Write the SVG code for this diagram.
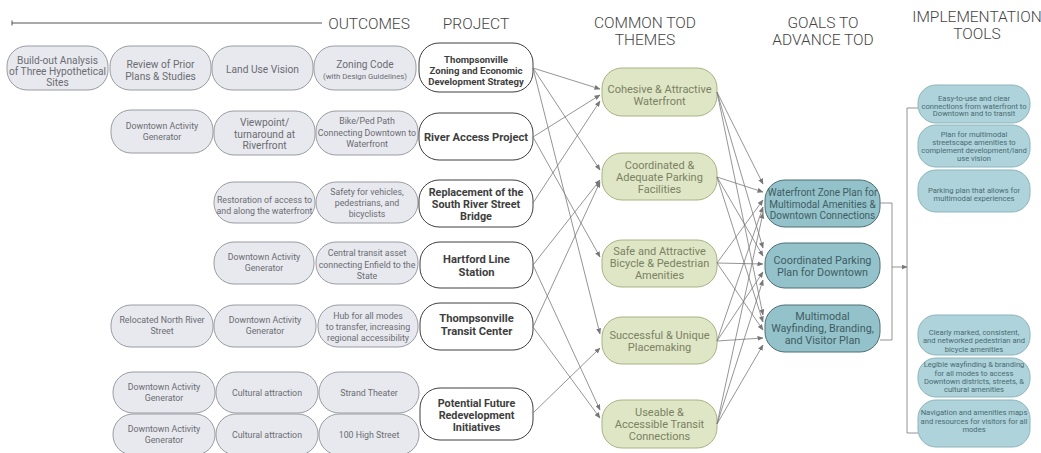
<svg xmlns="http://www.w3.org/2000/svg" width="1041" height="453" viewBox="0 0 1041 453">
<defs>
<marker id="ah" markerWidth="6" markerHeight="5" refX="5.5" refY="2.5" orient="auto" markerUnits="userSpaceOnUse"><path d="M0,0 L6,2.5 L0,5 Z" fill="#777"/></marker>
</defs>
<style>
text{font-family:Roboto,"Liberation Sans",sans-serif;text-anchor:middle}
.hd{font-size:15.5px;font-weight:300;fill:#444}
.oc rect{fill:#e8e9ee;stroke:#9a9ca3;stroke-width:1}
.oc text{fill:#6a6c72;font-size:8.8px}
.oc text.lg{font-size:10.2px}
.pr rect{fill:#fff;stroke:#3e3e3e;stroke-width:1}
.pr text{fill:#3e3e3e;font-weight:bold;font-size:10.8px}
.pr text.b{font-size:11.2px}
.pr text.s{font-size:9.6px}
.th rect{fill:#dfe6c5;stroke:#a9b284;stroke-width:1}
.th text{fill:#7a8164;font-size:11px}
.gl rect{fill:#94c2ca;stroke:#4d6e74;stroke-width:1}
.gl text{fill:#3f5d63;font-size:10px}
.gl text.b{font-size:10.8px}
.im rect{fill:#aed3da;stroke:#8db5bc;stroke-width:1}
.im text{fill:#4a6b72;font-size:7.6px}
.cn line,.cn path{stroke:#7a7a7a;stroke-width:0.8;fill:none}
.cn line{marker-end:url(#ah)}
</style>
<rect width="1041" height="453" fill="#fff"/>
<g id="header">
<line x1="12" y1="23" x2="322" y2="23" stroke="#555" stroke-width="1.2"/>
<line x1="12" y1="20.5" x2="12" y2="25.5" stroke="#555" stroke-width="1"/>
<text class="hd" x="369" y="29">OUTCOMES</text>
<text class="hd" x="476" y="29">PROJECT</text>
<text class="hd" x="645" y="28">COMMON TOD</text>
<text class="hd" x="645" y="45">THEMES</text>
<text class="hd" x="823" y="28">GOALS TO</text>
<text class="hd" x="823" y="45">ADVANCE TOD</text>
<text class="hd" x="977" y="22">IMPLEMENTATION</text>
<text class="hd" x="977" y="39">TOOLS</text>
</g>
<g id="outcomes" class="oc">
<g id="o1a"><rect x="7" y="46" width="101" height="44" rx="20"/><text class="lg" x="57.5" y="64">Build-out Analysis</text><text class="lg" x="57.5" y="75">of Three Hypothetical</text><text class="lg" x="57.5" y="86">Sites</text></g>
<g id="o1b"><rect x="110" y="46" width="101" height="44" rx="20"/><text class="lg" x="160.5" y="68">Review of Prior</text><text class="lg" x="160.5" y="80">Plans &amp; Studies</text></g>
<g id="o1c"><rect x="212" y="46" width="101" height="44" rx="20"/><text class="lg" x="262.5" y="73">Land Use Vision</text></g>
<g id="o1d"><rect x="314" y="46" width="102" height="44" rx="20"/><text class="lg" x="365" y="68">Zoning Code</text><text x="365" y="79" style="font-size:7.8px">(with Design Guidelines)</text></g>
<g id="o2a"><rect x="111" y="110" width="102" height="43" rx="20"/><text x="162" y="129">Downtown Activity</text><text x="162" y="140">Generator</text></g>
<g id="o2b"><rect x="214" y="111" width="101" height="44" rx="20"/><text class="lg" x="264.5" y="126">Viewpoint/</text><text class="lg" x="264.5" y="138">turnaround at</text><text class="lg" x="264.5" y="149">Riverfront</text></g>
<g id="o2c"><rect x="316" y="111" width="102" height="44" rx="20"/><text x="367" y="124">Bike/Ped Path</text><text x="367" y="136">Connecting Downtown to</text><text x="367" y="147">Waterfront</text></g>
<g id="o3a"><rect x="214" y="182" width="101" height="41" rx="20"/><text x="264.5" y="203">Restoration of access to</text><text x="264.5" y="214">and along the waterfront</text></g>
<g id="o3b"><rect x="316" y="182" width="102" height="41" rx="20"/><text x="367" y="195">Safety for vehicles,</text><text x="367" y="206">pedestrians, and</text><text x="367" y="217">bicyclists</text></g>
<g id="o4a"><rect x="214" y="242" width="100" height="42" rx="20"/><text x="264" y="260">Downtown Activity</text><text x="264" y="271">Generator</text></g>
<g id="o4b"><rect x="316" y="242" width="102" height="42" rx="20"/><text x="367" y="256">Central transit asset</text><text x="367" y="268">connecting Enfield to the</text><text x="367" y="279">State</text></g>
<g id="o5a"><rect x="111" y="305" width="102" height="42" rx="20"/><text x="162" y="323">Relocated North River</text><text x="162" y="334">Street</text></g>
<g id="o5b"><rect x="214" y="305" width="102" height="42" rx="20"/><text x="265" y="323">Downtown Activity</text><text x="265" y="334">Generator</text></g>
<g id="o5c"><rect x="318" y="305" width="100" height="42" rx="20"/><text x="368" y="319">Hub for all modes</text><text x="368" y="330">to transfer, increasing</text><text x="368" y="341">regional accessibility</text></g>
<g id="o6a"><rect x="113" y="372" width="102" height="41" rx="20"/><text x="164" y="390">Downtown Activity</text><text x="164" y="401">Generator</text></g>
<g id="o6b"><rect x="216" y="372" width="102" height="41" rx="20"/><text x="267" y="396">Cultural attraction</text></g>
<g id="o6c"><rect x="319" y="372" width="100" height="41" rx="20"/><text x="369" y="396">Strand Theater</text></g>
<g id="o7a"><rect x="113" y="414" width="102" height="41" rx="20"/><text x="164" y="432">Downtown Activity</text><text x="164" y="443">Generator</text></g>
<g id="o7b"><rect x="216" y="414" width="102" height="41" rx="20"/><text x="267" y="438">Cultural attraction</text></g>
<g id="o7c"><rect x="319" y="414" width="100" height="41" rx="20"/><text x="369" y="438">100 High Street</text></g>
</g>
<g id="projects" class="pr">
<g id="p1"><rect x="419" y="43" width="114" height="49" rx="20"/><text class="s" x="476" y="63">Thompsonville</text><text class="s" x="476" y="74">Zoning and Economic</text><text class="s" x="476" y="85">Development Strategy</text></g>
<g id="p2"><rect x="419" y="113" width="114" height="47" rx="20"/><text class="b" x="476" y="141">River Access Project</text></g>
<g id="p3"><rect x="419" y="180" width="114" height="47" rx="20"/><text x="476" y="196">Replacement of the</text><text x="476" y="208">South River Street</text><text x="476" y="220">Bridge</text></g>
<g id="p4"><rect x="420" y="242" width="113" height="46" rx="20"/><text class="b" x="476.5" y="263">Hartford Line</text><text class="b" x="476.5" y="276">Station</text></g>
<g id="p5"><rect x="420" y="303" width="113" height="47" rx="20"/><text class="b" x="476.5" y="322">Thompsonville</text><text class="b" x="476.5" y="335">Transit Center</text></g>
<g id="p6"><rect x="420" y="388" width="113" height="52" rx="20"/><text x="476.5" y="407">Potential Future</text><text x="476.5" y="419">Redevelopment</text><text x="476.5" y="431">Initiatives</text></g>
</g>
<g id="themes" class="th">
<g id="t1"><rect x="602" y="68" width="115" height="48" rx="20"/><text x="659.5" y="93">Cohesive &amp; Attractive</text><text x="659.5" y="105">Waterfront</text></g>
<g id="t2"><rect x="602" y="153" width="115" height="47" rx="20"/><text x="659.5" y="169">Coordinated &amp;</text><text x="659.5" y="181">Adequate Parking</text><text x="659.5" y="193">Facilities</text></g>
<g id="t3"><rect x="602" y="240" width="115" height="47" rx="20"/><text x="659.5" y="255">Safe and Attractive</text><text x="659.5" y="267">Bicycle &amp; Pedestrian</text><text x="659.5" y="279">Amenities</text></g>
<g id="t4"><rect x="602" y="317" width="115" height="47" rx="20"/><text x="659.5" y="339">Successful &amp; Unique</text><text x="659.5" y="351">Placemaking</text></g>
<g id="t5"><rect x="602" y="400" width="115" height="48" rx="20"/><text x="659.5" y="416">Useable &amp;</text><text x="659.5" y="428">Accessible Transit</text><text x="659.5" y="440">Connections</text></g>
</g>
<g id="goals" class="gl">
<g id="g1"><rect x="765" y="180" width="115" height="47" rx="20"/><text x="822.5" y="196">Waterfront Zone Plan for</text><text x="822.5" y="208">Multimodal Amenities &amp;</text><text x="822.5" y="219">Downtown Connections</text></g>
<g id="g2"><rect x="765" y="243" width="115" height="45" rx="20"/><text class="b" x="822.5" y="264">Coordinated Parking</text><text class="b" x="822.5" y="276">Plan for Downtown</text></g>
<g id="g3"><rect x="765" y="305" width="115" height="47" rx="20"/><text class="b" x="822.5" y="320">Multimodal</text><text class="b" x="822.5" y="332">Wayfinding, Branding,</text><text class="b" x="822.5" y="344">and Visitor Plan</text></g>
</g>
<g id="tools" class="im">
<g id="i1"><rect x="918" y="85" width="112" height="38" rx="18"/><text x="974" y="101">Easy-to-use and clear</text><text x="974" y="108.5">connections from waterfront to</text><text x="974" y="116">Downtown and to transit</text></g>
<g id="i2"><rect x="918" y="125" width="112" height="42" rx="18"/><text x="974" y="136.5">Plan for multimodal</text><text x="974" y="145">streetscape amenities to</text><text x="974" y="153">complement development/land</text><text x="974" y="161">use vision</text></g>
<g id="i3"><rect x="918" y="170" width="112" height="42" rx="18"/><text x="974" y="193">Parking plan that allows for</text><text x="974" y="201">multimodal experiences</text></g>
<g id="i4"><rect x="918" y="315" width="112" height="40" rx="18"/><text x="974" y="335">Clearly marked, consistent,</text><text x="974" y="343">and networked pedestrian and</text><text x="974" y="352">bicycle amenities</text></g>
<g id="i5"><rect x="918" y="358" width="112" height="39" rx="18"/><text x="974" y="367">Legible wayfinding &amp; branding</text><text x="974" y="376">for all modes to access</text><text x="974" y="384">Downtown districts, streets, &amp;</text><text x="974" y="392">cultural amenities</text></g>
<g id="i6"><rect x="918" y="400" width="112" height="47" rx="18"/><text x="974" y="415">Navigation and amenities maps</text><text x="974" y="424">and resources for visitors for all</text><text x="974" y="432">modes</text></g>
</g>
<g id="connectors" class="cn">
<line x1="533" y1="68" x2="600" y2="89"/>
<line x1="533" y1="68" x2="600" y2="170"/>
<line x1="533" y1="68" x2="600" y2="334"/>
<line x1="533" y1="137" x2="600" y2="95"/>
<line x1="533" y1="137" x2="600" y2="257"/>
<line x1="533" y1="203" x2="600" y2="101"/>
<line x1="533" y1="265" x2="600" y2="180"/>
<line x1="533" y1="265" x2="600" y2="410"/>
<line x1="533" y1="327" x2="600" y2="182"/>
<line x1="533" y1="327" x2="600" y2="418"/>
<line x1="533" y1="413" x2="600" y2="348"/>
<line x1="717" y1="92" x2="763" y2="184"/>
<line x1="717" y1="92" x2="763" y2="248"/>
<line x1="717" y1="92" x2="763" y2="315"/>
<line x1="717" y1="177" x2="763" y2="192"/>
<line x1="717" y1="177" x2="763" y2="256"/>
<line x1="717" y1="177" x2="763" y2="322"/>
<line x1="717" y1="263" x2="763" y2="200"/>
<line x1="717" y1="263" x2="763" y2="264"/>
<line x1="717" y1="263" x2="763" y2="330"/>
<line x1="717" y1="341" x2="763" y2="207"/>
<line x1="717" y1="341" x2="763" y2="272"/>
<line x1="717" y1="341" x2="763" y2="338"/>
<line x1="717" y1="424" x2="763" y2="213"/>
<line x1="717" y1="424" x2="763" y2="280"/>
<line x1="717" y1="424" x2="763" y2="345"/>
<path d="M880,203 H892 V340 H880"/>
<line x1="892" y1="267" x2="907" y2="267"/>
<path d="M918,108 H907 V433 H918"/>
</g>
</svg>
